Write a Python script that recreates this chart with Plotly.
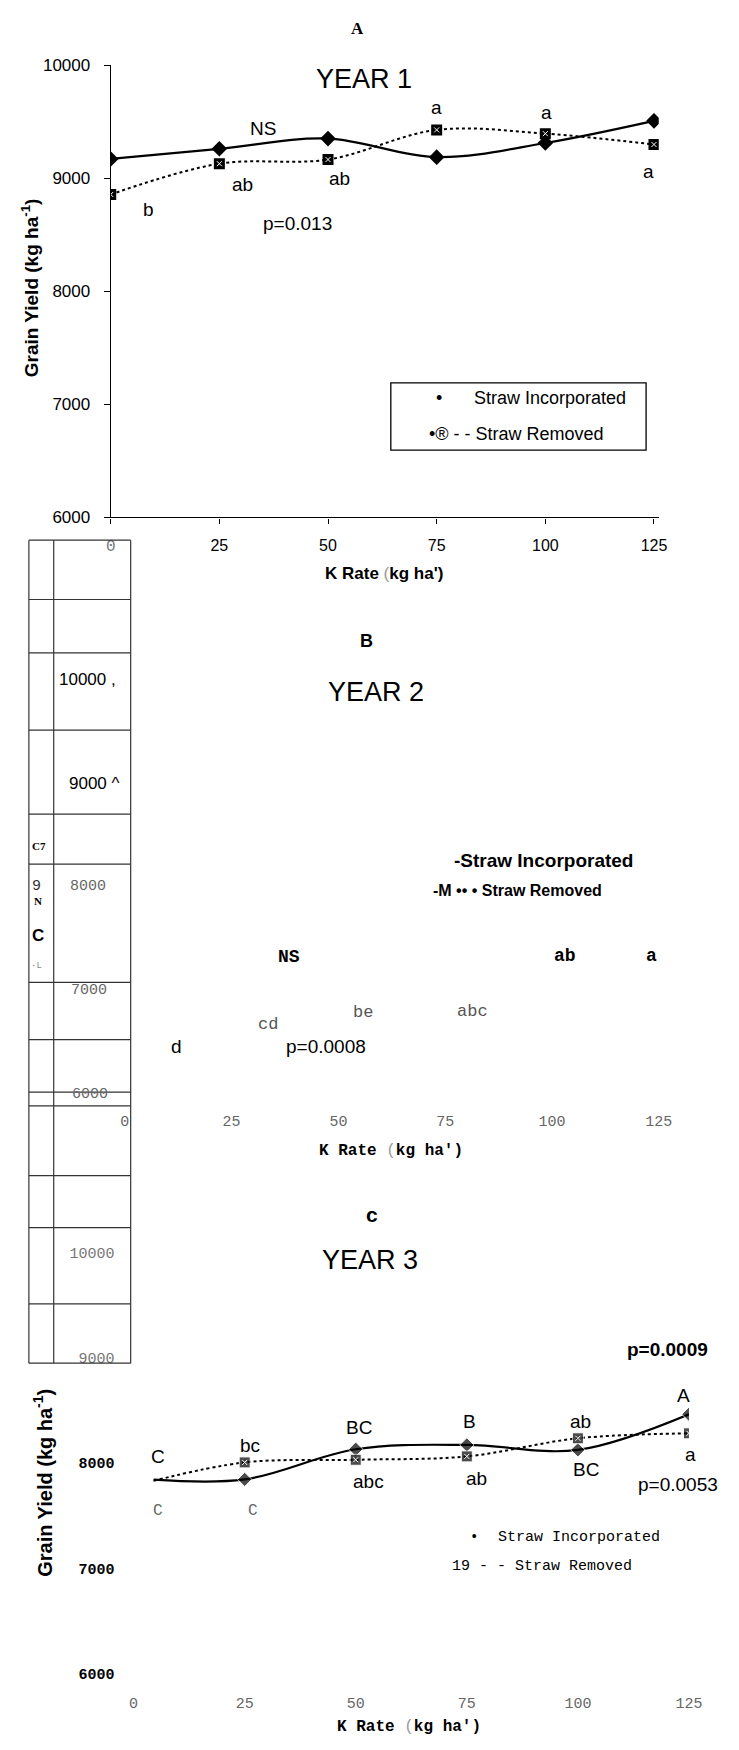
import plotly.graph_objects as go

W, H = 739, 1750


def px(x):
    return x / W


def py(y):
    return 1 - y / H


# ---------------- data ----------------
k_rate = [0, 25, 50, 75, 100, 125]
k_rate_c = [4.5, 25, 50, 75, 100, 125]
yield1_incorporated = [9172, 9262, 9352, 9188, 9313, 9509]
yield1_removed = [8858, 9130, 9167, 9429, 9396, 9300]
yield3_incorporated = [7843, 7845, 8131, 8172, 8125, 8463]
yield3_removed = [7831, 8006, 8031, 8063, 8235, 8282]
x_ticks = [0, 25, 50, 75, 100, 125]
y_ticks = [6000, 7000, 8000, 9000, 10000]
y_tick_text = ["6000", "7000", "8000", "9000", "10000"]
marker_c = [0, 11, 11, 11, 11, 11]

SANS = "Liberation Sans, Arial, sans-serif"
MONO = "Liberation Mono, Courier New, monospace"
SERIF = "Liberation Serif, Times New Roman, serif"

fig = go.Figure()

# ---------- Panel A ----------
fig.add_trace(go.Scatter(x=k_rate, y=yield1_incorporated, mode="lines+markers",
                         line=dict(color="black", width=2.2, shape="spline", smoothing=1),
                         marker=dict(symbol="diamond", size=12, color="black"),
                         xaxis="x", yaxis="y", showlegend=False))
fig.add_trace(go.Scatter(x=k_rate, y=yield1_removed, mode="lines+markers",
                         line=dict(color="black", width=2, dash="dot", shape="spline", smoothing=1),
                         marker=dict(symbol="square", size=11, color="black"),
                         xaxis="x", yaxis="y", showlegend=False))
fig.add_trace(go.Scatter(x=k_rate, y=yield1_removed, mode="markers",
                         marker=dict(symbol="x-thin", size=5, color="white",
                                     line=dict(color="white", width=1)),
                         xaxis="x", yaxis="y", showlegend=False))

# ---------- Panel B (axes only) ----------
fig.add_trace(go.Scatter(x=[], y=[], mode="markers", xaxis="x2", yaxis="y2", showlegend=False))

# ---------- Panel C ----------
fig.add_trace(go.Scatter(x=k_rate_c, y=yield3_incorporated, mode="lines+markers",
                         line=dict(color="black", width=2.2, shape="spline", smoothing=1),
                         marker=dict(symbol="diamond", size=marker_c, color="black"),
                         xaxis="x3", yaxis="y3", showlegend=False))
fig.add_trace(go.Scatter(x=k_rate_c, y=yield3_removed, mode="lines+markers",
                         line=dict(color="black", width=2, dash="dot", shape="spline", smoothing=1),
                         marker=dict(symbol="square", size=marker_c, color="black"),
                         xaxis="x3", yaxis="y3", showlegend=False))
fig.add_trace(go.Scatter(x=k_rate_c[1:], y=yield3_removed[1:], mode="markers",
                         marker=dict(symbol="x-thin", size=5, color="white",
                                     line=dict(color="white", width=1)),
                         xaxis="x3", yaxis="y3", showlegend=False))

gray_span = "<span style='color:#777;font-family:Liberation Mono;font-weight:normal'>{}</span>"

xa_text = [gray_span.format(t) if t == 0 else str(t) for t in x_ticks]
yc_text = ["<b>%s</b>" % t if v <= 8000 else gray_span.format(t) for v, t in zip(y_ticks, y_tick_text)]

fig.update_layout(
    width=W, height=H, margin=dict(l=0, r=0, t=0, b=0),
    paper_bgcolor="white", plot_bgcolor="white",
    xaxis=dict(domain=[px(108.5), px(671)], range=[0, 126.1], anchor="y",
               showgrid=False, zeroline=False, showline=True, linecolor="black", linewidth=1.2,
               ticks="outside", ticklen=5, tickcolor="black",
               tickvals=x_ticks, ticktext=xa_text,
               tickfont=dict(family=SANS, size=16, color="black"), ticklabelstandoff=8),
    yaxis=dict(domain=[py(514), py(57)], range=[6000, 10000], anchor="x",
               showgrid=False, zeroline=False, showline=True, linecolor="black", linewidth=1.2,
               ticks="outside", ticklen=6, tickcolor="black",
               tickvals=y_ticks, ticktext=y_tick_text,
               tickfont=dict(family=SANS, size=17, color="black"), ticklabelstandoff=10),
    xaxis2=dict(domain=[px(123), px(671)], range=[0, 125], anchor="y2",
                showgrid=False, zeroline=False, showline=False, ticks="",
                tickvals=x_ticks, tickfont=dict(family=MONO, size=15, color="#666"),
                ticklabelstandoff=16),
    yaxis2=dict(domain=[py(1097), py(678)], range=[6000, 10000], anchor="x2",
                showgrid=False, zeroline=False, showline=False, showticklabels=False, ticks=""),
    xaxis3=dict(domain=[px(132), px(702)], range=[0, 125], anchor="y3",
                showgrid=False, zeroline=False, showline=False, ticks="",
                tickvals=x_ticks, tickfont=dict(family=MONO, size=15, color="#666"),
                ticklabelstandoff=18),
    yaxis3=dict(domain=[py(1683), py(1257)], range=[6000, 10000], anchor="x3",
                showgrid=False, zeroline=False, showline=False, ticks="",
                tickvals=y_ticks, ticktext=yc_text,
                tickfont=dict(family=MONO, size=15, color="black"), ticklabelstandoff=18),
)

# ---------- table lines (left strip) ----------
shapes = []
for xv in [24.5, 50, 129]:
    shapes.append(dict(type="line", xref="paper", yref="paper", x0=px(xv), x1=px(xv),
                       y0=py(537), y1=py(1369), line=dict(color="#333", width=1.2)))
for yv in [537, 597, 651, 729, 814, 864.5, 984, 1042, 1095, 1109, 1179.5, 1232, 1309, 1369]:
    shapes.append(dict(type="line", xref="paper", yref="paper", x0=px(24.5), x1=px(129),
                       y0=py(yv), y1=py(yv), line=dict(color="#333", width=1.2)))
# legend box panel A
shapes.append(dict(type="rect", xref="paper", yref="paper", x0=px(396), x1=px(658),
                   y0=py(446), y1=py(378), line=dict(color="black", width=1.3)))
fig.update_layout(shapes=shapes)

annots = []


def ann(text, x, y, size, family=SANS, color="black", angle=0, xanchor="center"):
    annots.append(dict(text=text, x=px(x), y=py(y), xref="paper", yref="paper",
                       showarrow=False, xanchor=xanchor, yanchor="middle", textangle=angle,
                       font=dict(size=size, family=family, color=color)))


KRATE = "<b>K Rate </b><span style='color:#999;font-weight:normal'>(</span><b>kg ha')</b>"

# Panel A texts
ann("<b>A</b>", 362, 20, 17, SERIF)
ann("YEAR 1", 368, 71, 27)
ann("NS", 265, 121, 19)
ann("a", 443, 100, 19)
ann("a", 556, 105, 19)
ann("a", 660, 164, 19)
ann("ab", 244, 177, 19)
ann("ab", 343, 171, 19)
ann("b", 147, 203, 19)
ann("p=0.013", 300, 217, 19)
ann("•", 445, 393, 18)
ann("Straw Incorporated", 559, 393, 18)
ann("•® - - Straw Removed", 525, 430, 18)
ann("<b>Grain Yield (kg ha<sup>-1</sup>)</b>", 26, 282, 19, angle=-90)
ann(KRATE, 389, 571, 17)

# Panel B texts
ann("<b>B</b>", 371, 639, 18)
ann("YEAR 2", 381, 690, 27)
ann("<b>-Straw Incorporated</b>", 553, 861, 19)
ann("<b>-M •• • Straw Removed</b>", 526, 891, 16)
ann("<b>NS</b>", 292, 958, 18, MONO)
ann("<b>ab</b>", 575, 957, 18, MONO)
ann("<b>a</b>", 664, 957, 18, MONO)
ann("be", 367, 1015, 17, MONO, "#555")
ann("abc", 480, 1013, 17, MONO, "#555")
ann("cd", 270, 1027, 17, MONO, "#555")
ann("d", 176, 1049, 19)
ann("p=0.0008", 329, 1049, 19)
ann(KRATE, 396, 1155, 16, MONO)
# panel B y tick labels (drawn in the table)
b_tick_text = ["6000", "7000", "8000", "9000 ^", "10000 ,"]
b_tick_x = [87, 86, 85, 92, 85]
b_tick_style = [(MONO, "#666", 15), (MONO, "#666", 15), (MONO, "#666", 15),
                (SANS, "black", 17), (SANS, "black", 17)]
for val, txt, xx, (fam, col, sz) in zip(y_ticks, b_tick_text, b_tick_x, b_tick_style):
    annots.append(dict(text=txt, x=px(xx), y=val, xref="paper", yref="y2", showarrow=False,
                       xanchor="center", yanchor="middle",
                       font=dict(size=sz, family=fam, color=col)))
# junk glyphs in the table strip
ann("<b>C7</b>", 35, 846, 11, SERIF)
ann("9", 32, 887, 15, MONO, "#333")
ann("<b>N</b>", 34, 902, 11, SERIF)
ann("<b>C</b>", 34, 937, 17)
ann("·L", 32, 967, 9, MONO, "#888")

# Panel C texts
ann("<b>c</b>", 377, 1219, 21)
ann("YEAR 3", 375, 1265, 27)
ann("<b>p=0.0009</b>", 680, 1355, 19)
ann("C", 157, 1463, 19)
ann("bc", 251, 1452, 19)
ann("BC", 363, 1434, 19)
ann("B", 477, 1428, 19)
ann("ab", 591, 1428, 19)
ann("A", 696, 1402, 19)
ann("a", 704, 1461, 19)
ann("BC", 596, 1477, 19)
ann("ab", 484, 1486, 19)
ann("abc", 373, 1489, 19)
ann("p=0.0053", 691, 1492, 19)
ann("C", 157, 1518, 16, MONO, "#666")
ann("C", 255, 1518, 16, MONO, "#666")
ann("•", 481, 1545, 14, MONO)
ann("Straw Incorporated", 589, 1545, 15, MONO)
ann("19 - - Straw Removed", 551, 1575, 15, MONO)
ann("<b>Grain Yield (kg ha<sup>-1</sup>)</b>", 39, 1490, 20, angle=-90)
ann(KRATE, 415, 1737, 16, MONO)

fig.update_layout(annotations=annots)

fig.write_html("out.html")
